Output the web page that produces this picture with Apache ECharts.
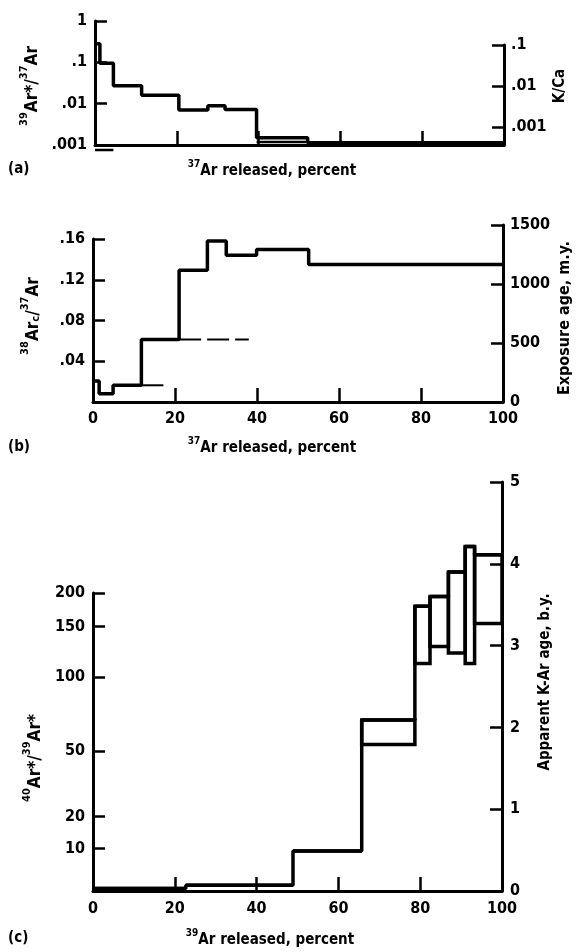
<!DOCTYPE html>
<html>
<head>
<meta charset="utf-8">
<script src="https://cdn.jsdelivr.net/npm/echarts@6/dist/echarts.min.js"></script>
<style>
html, body { margin: 0; padding: 0; background: #fff; }
#chart { width: 577px; height: 952px; }
</style>
</head>
<body>
<div id="chart"></div>
<script>
// (a) 39Ar*/37Ar against 37Ar released (step start, percent)
const aStart = [0, 1.2, 4.5, 11.4, 20.5, 27.6, 31.8, 39.5, 52];
const aRatio = [0.28, 0.095, 0.027, 0.016, 0.007, 0.0089, 0.0072, 0.0015, 0.00113];
const aLowerX = [39.5, 52];
const aLowerVal = 0.00118;
const aBelowX = [0, 4.5];
const aBelowVal = 0.00076;
const aLeftTicks = [0.001, 0.01, 0.1, 1];
const aLeftLabels = ['.001', '.01', '.1', '1'];
const aRightExp = [-3, -2, -1];          // K/Ca, log10
const aRightLabels = ['.001', '.01', '.1'];

// (b) 38Arc/37Ar
const bStart = [0, 1.5, 4.9, 11.8, 21.0, 27.9, 32.5, 39.9, 52.6];
const bRatio = [0.0206, 0.0082, 0.0164, 0.0613, 0.1294, 0.158, 0.144, 0.1497, 0.135];
const bDashFrom = [11.8, 21.0];
const bDashTo = [17.9, 38.0];
const bDashVal = [0.0164, 0.0613];
const bLeftTicks = [0.04, 0.08, 0.12, 0.16];
const bLeftLabels = ['.04', '.08', '.12', '.16'];

// (c) apparent K-Ar age (b.y.) against 39Ar released
const cStart = [0, 22.7, 48.9, 65.7, 78.7, 82.4, 86.9, 91.0, 93.3];
const cHigh = [0.03, 0.07, 0.49, 2.09, 3.48, 3.60, 3.90, 4.21, 4.11];
const cLow  = [0.03, 0.07, 0.49, 1.79, 2.78, 2.99, 2.91, 2.78, 3.27];
// 40Ar*/39Ar* ticks and the age they sit at
const cRatioLabels = ['10', '20', '50', '100', '150', '200'];
const cRatioAge = [0.52, 0.91, 1.71, 2.61, 3.23, 3.64];

const xTicks = [20, 40, 60, 80];
const F = "'DejaVu Sans Condensed', 'Liberation Sans Narrow', 'DejaVu Sans', sans-serif";

let myChart = echarts.init(document.getElementById('chart'), null, { renderer: 'canvas' });

const axLine = { show: true, onZero: false, lineStyle: { color: '#000', width: 3 } };
const inTick = { show: true, inside: true, length: 12, lineStyle: { color: '#000', width: 2.5 } };
const lbl = { color: '#000', fontFamily: F, fontWeight: 'bold', fontSize: 16 };
const plain = function (v) { return String(v); };

function steps(start, vals) {
    let d = start.map((x, i) => [x, vals[i]]);
    d.push([100, vals[vals.length - 1]]);
    return d;
}
function near(a, b) { return Math.abs(a - b) < 1e-6; }

const lineBase = { type: 'line', symbol: 'none', animation: false, lineStyle: { color: '#000', width: 3.5 } };

const rich = {
    m: { fontSize: 17, fontWeight: 'bold', fontFamily: F, verticalAlign: 'bottom', lineHeight: 22 },
    s: { fontSize: 11, fontWeight: 'bold', fontFamily: F, verticalAlign: 'top', lineHeight: 11 },
    b: { fontSize: 11, fontWeight: 'bold', fontFamily: F, verticalAlign: 'bottom', lineHeight: 11 }
};
const richX = {
    m: { fontSize: 15, fontWeight: 'bold', fontFamily: F, verticalAlign: 'bottom', lineHeight: 20 },
    s: { fontSize: 10, fontWeight: 'bold', fontFamily: F, verticalAlign: 'top', lineHeight: 10 }
};
function txt(x, y, text, rot, r, size) {
    return {
        type: 'text', x: x, y: y, rotation: rot ? Math.PI / 2 : 0,
        style: {
            text: text, fill: '#000', align: 'center', verticalAlign: 'middle',
            font: 'bold ' + (size || 15) + 'px ' + F, rich: r || undefined
        }
    };
}

myChart.setOption({
    animation: false,
    backgroundColor: '#fff',
    grid: [
        { left: 95, top: 21, width: 409, height: 124 },
        { left: 95, top: 45, width: 409, height: 100 },
        { left: 93, top: 239, width: 410, height: 163 },
        { left: 93, top: 225, width: 410, height: 177 },
        { left: 93, top: 482, width: 409, height: 409 },
        { left: 93, top: 593, width: 409, height: 298 }
    ],
    xAxis: [
        { gridIndex: 0, type: 'value', min: 0, max: 100, axisLine: axLine,
          axisTick: Object.assign({}, inTick, { length: 14, customValues: xTicks }),
          axisLabel: { show: false }, splitLine: { show: false } },
        { gridIndex: 1, type: 'value', min: 0, max: 100, show: false },
        { gridIndex: 2, type: 'value', min: 0, max: 100, interval: 20, axisLine: axLine,
          axisTick: Object.assign({}, inTick, { length: 14, customValues: xTicks }),
          axisLabel: Object.assign({}, lbl, { margin: 9, formatter: plain }), splitLine: { show: false } },
        { gridIndex: 3, type: 'value', min: 0, max: 100, show: false },
        { gridIndex: 4, type: 'value', min: 0, max: 100, interval: 20, axisLine: axLine,
          axisTick: Object.assign({}, inTick, { length: 14, customValues: xTicks }),
          axisLabel: Object.assign({}, lbl, { margin: 10, formatter: plain }), splitLine: { show: false } },
        { gridIndex: 5, type: 'value', min: 0, max: 100, show: false }
    ],
    yAxis: [
        { gridIndex: 0, type: 'log', logBase: 10, min: 0.001, max: 1, position: 'left',
          axisLine: axLine, axisTick: inTick, splitLine: { show: false }, minorTick: { show: false },
          axisLabel: Object.assign({}, lbl, { margin: 8, formatter: function (v) {
              let i = aLeftTicks.findIndex(t => near(Math.log10(t), Math.log10(v)));
              return i < 0 ? '' : aLeftLabels[i];
          } }) },
        { gridIndex: 1, type: 'value', min: -3.44, max: -1, position: 'right',
          axisLine: axLine, axisTick: Object.assign({}, inTick, { customValues: aRightExp }),
          splitLine: { show: false },
          axisLabel: Object.assign({}, lbl, { margin: 7, customValues: aRightExp, formatter: function (v) {
              let i = aRightExp.findIndex(t => near(t, v));
              return i < 0 ? '' : aRightLabels[i];
          } }) },
        { gridIndex: 2, type: 'value', min: 0, max: 0.16, position: 'left',
          axisLine: axLine, axisTick: Object.assign({}, inTick, { customValues: bLeftTicks }),
          splitLine: { show: false },
          axisLabel: Object.assign({}, lbl, { margin: 8, customValues: bLeftTicks, formatter: function (v) {
              let i = bLeftTicks.findIndex(t => near(t, v));
              return i < 0 ? '' : bLeftLabels[i];
          } }) },
        { gridIndex: 3, type: 'value', min: 0, max: 1500, interval: 500, position: 'right',
          axisLine: axLine, axisTick: inTick, splitLine: { show: false },
          axisLabel: Object.assign({}, lbl, { margin: 7, formatter: plain }) },
        { gridIndex: 4, type: 'value', min: 0, max: 5, interval: 1, position: 'right',
          axisLine: axLine, axisTick: inTick, splitLine: { show: false },
          axisLabel: Object.assign({}, lbl, { margin: 8, formatter: plain }) },
        { gridIndex: 5, type: 'value', min: 0, max: 3.64, position: 'left',
          axisLine: axLine, axisTick: Object.assign({}, inTick, { customValues: cRatioAge }),
          splitLine: { show: false },
          axisLabel: Object.assign({}, lbl, { margin: 8, customValues: cRatioAge, formatter: function (v) {
              let i = cRatioAge.findIndex(t => near(t, v));
              return i < 0 ? '' : cRatioLabels[i];
          } }) }
    ],
    series: [
        Object.assign({}, lineBase, { xAxisIndex: 0, yAxisIndex: 0, step: 'end', data: steps(aStart, aRatio) }),
        Object.assign({}, lineBase, { xAxisIndex: 0, yAxisIndex: 0, lineStyle: { color: '#000', width: 2.5 },
            data: aLowerX.map(x => [x, aLowerVal]) }),
        Object.assign({}, lineBase, { xAxisIndex: 0, yAxisIndex: 0, clip: false, lineStyle: { color: '#000', width: 2.5 },
            data: aBelowX.map(x => [x, aBelowVal]) }),
        Object.assign({}, lineBase, { xAxisIndex: 2, yAxisIndex: 2, step: 'end', data: steps(bStart, bRatio) })
    ].concat(bDashVal.map((v, i) => Object.assign({}, lineBase, {
        xAxisIndex: 2, yAxisIndex: 2,
        lineStyle: { color: '#000', width: 2, type: [22, 6] },
        data: [[bDashFrom[i], v], [bDashTo[i], v]]
    }))).concat([
        Object.assign({}, lineBase, { xAxisIndex: 4, yAxisIndex: 4, step: 'end', data: steps(cStart, cHigh) }),
        {
            type: 'custom', xAxisIndex: 4, yAxisIndex: 4, animation: false,
            encode: { x: [0, 1], y: [2, 3] },
            data: cStart.map((s, i) => [s, i < cStart.length - 1 ? cStart[i + 1] : 100, cLow[i], cHigh[i]]),
            renderItem: function (params, api) {
                let p0 = api.coord([api.value(0), api.value(3)]);
                let p1 = api.coord([api.value(1), api.value(2)]);
                return {
                    type: 'rect',
                    shape: { x: p0[0], y: p0[1], width: p1[0] - p0[0], height: p1[1] - p0[1] },
                    style: { fill: null, stroke: '#000', lineWidth: 3.5 }
                };
            }
        }
    ]),
    graphic: [
        txt(30, 86, '{s|39}{m|Ar*/}{s|37}{m|Ar}', true, rich),
        txt(560, 86, 'K/Ca', true, null, 15),
        txt(8, 169, '(a)', false, null, 15),
        txt(272, 169, '{s|37}{m|Ar released, percent}', false, richX),
        txt(31, 316, '{s|38}{m|Ar}{b|c}{m|/}{s|37}{m|Ar}', true, rich),
        txt(565, 318, 'Exposure age, m.y.', true, null, 16),
        txt(8, 447, '(b)', false, null, 15),
        txt(272, 446, '{s|37}{m|Ar released, percent}', false, richX),
        txt(33, 758, '{s|40}{m|Ar*/}{s|39}{m|Ar*}', true, rich),
        txt(545, 682, 'Apparent K-Ar age, b.y.', true, null, 15),
        txt(8, 938, '(c)', false, null, 15),
        txt(270, 938, '{s|39}{m|Ar released, percent}', false, richX)
    ].map(g => { if (g.style.text.charAt(0) === '(') { g.style.align = 'left'; } return g; })
});

window.onresize = function () { myChart.resize(); };
</script>
</body>
</html>
